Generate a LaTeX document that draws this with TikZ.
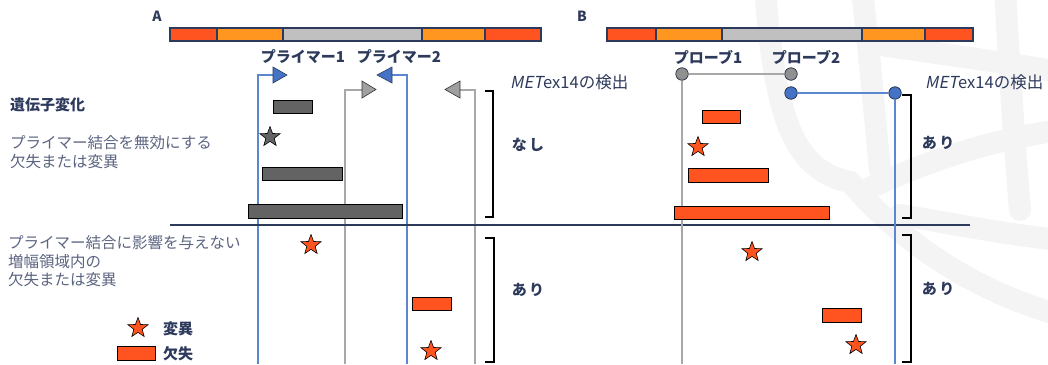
\documentclass[tikz,border=0pt]{standalone}
\usepackage{fontspec}
\setmainfont{Noto Sans CJK JP}
\newfontfamily\slantjp{Noto Sans CJK JP}[FakeSlant=0.2]
\usetikzlibrary{shapes.geometric}
\definecolor{navy}{HTML}{2E3A5C}
\definecolor{desc}{HTML}{5B6480}
\definecolor{segred}{HTML}{FF5420}
\definecolor{segorg}{HTML}{FF9620}
\definecolor{seggray}{HTML}{C0C0C0}
\definecolor{blueln}{HTML}{5B86D0}
\definecolor{bluefill}{HTML}{4472C4}
\definecolor{grayln}{HTML}{A8A8A8}
\definecolor{grayfill}{HTML}{A0A0A0}
\definecolor{darkrect}{HTML}{636363}
\definecolor{circgray}{HTML}{909090}
\definecolor{wm}{HTML}{F4F4F4}
\begin{document}
\begin{tikzpicture}[x=1pt,y=-1pt,
  seg/.style={draw=navy,line width=1.5pt},
  box/.style={draw=black,line width=0.6pt,inner sep=0pt,minimum height=13pt},
  delbox/.style={box,fill=segred},
  darkbox/.style={box,fill=darkrect},
  starmark/.style={star,star points=5,star point ratio=2.4,draw=black,line width=0.6pt,fill=segred,inner sep=0pt,minimum size=21pt},
  lbl/.style={text=navy,font=\bfseries\fontsize{15}{17}\selectfont,inner sep=0pt},
  dsc/.style={text=desc,font=\fontsize{15.5}{19.5}\selectfont,align=left,anchor=west,inner sep=0pt},
  det/.style={text=navy,font=\fontsize{16.5}{18}\selectfont,anchor=west,inner sep=0pt},
  blueline/.style={draw=blueln,line width=1.4pt},
  grayline/.style={draw=grayln,line width=1.4pt},
  brk/.style={draw=black,line width=1.3pt},
  dot/.style={circle,draw=navy!70!black,line width=0.7pt,inner sep=0pt,minimum size=12.5pt}]
\useasboundingbox (0,0) rectangle (1048,364);
% watermark
\begin{scope}[draw=wm,line width=22pt,line cap=round]
\draw (765,-10) .. controls (775,110) and (790,170) .. (850,182) .. controls (900,240) and (970,290) .. (1060,315);
\draw (1005,-10) .. controls (1010,80) and (1015,150) .. (1020,210);
\draw (880,45) .. controls (950,55) and (1000,62) .. (1060,72);
\draw (865,190) .. controls (930,160) and (990,140) .. (1060,130);
\draw (900,215) .. controls (960,225) and (1010,235) .. (1060,240);
\draw (862,-10) .. controls (870,60) and (875,120) .. (880,170);
\end{scope}
% bar A
\node[lbl,font=\bfseries\fontsize{14}{16}\selectfont] (la) at (157,16) {A};
\filldraw[seg,fill=segred] (170,28) rectangle (217,41);
\filldraw[seg,fill=segorg] (217,28) rectangle (283,41);
\filldraw[seg,fill=seggray] (283,28) rectangle (422,41);
\filldraw[seg,fill=segorg] (422,28) rectangle (485,41);
\filldraw[seg,fill=segred] (485,28) rectangle (541,41);
% bar B
\node[lbl,font=\bfseries\fontsize{14}{16}\selectfont] (lb) at (582,16) {B};
\filldraw[seg,fill=segred] (607,28) rectangle (656,41);
\filldraw[seg,fill=segorg] (656,28) rectangle (722,41);
\filldraw[seg,fill=seggray] (722,28) rectangle (862,41);
\filldraw[seg,fill=segorg] (862,28) rectangle (925,41);
\filldraw[seg,fill=segred] (925,28) rectangle (973,41);
% labels
\node[lbl] (p1) at (303,57) {プライマー1};
\node[lbl] (p2) at (399,57) {プライマー2};
\node[lbl] (q1) at (708,57) {プローブ1};
\node[lbl] (q2) at (806,57) {プローブ2};
\node[det] (detA) at (510,82) {{\slantjp MET}ex14の検出};
\node[det] (detB) at (925,82) {{\slantjp MET}ex14の検出};
\node[text=navy,font=\bfseries\fontsize{15}{17}\selectfont,anchor=west,inner sep=0pt] (gene) at (10,105) {遺伝子変化};
\node[dsc] (d1) at (10,152) {プライマー結合を無効にする\\欠失または変異};
\node[dsc,font=\fontsize{15.5}{18.5}\selectfont] (d2) at (8,261.5) {プライマー結合に影響を与えない\\増幅領域内の\\欠失または変異};
% primer lines
\coordinate (b1bot) at (258,364);
\coordinate (b1cor) at (258,75);
\coordinate (b1tri) at (273,75);
\draw[blueline] (b1bot) -- (b1cor) -- (b1tri);
\filldraw[draw=navy,line width=0.6pt,fill=bluefill] (273,67) -- (287,75) -- (273,83) -- cycle;
\coordinate (b2bot) at (407,364);
\coordinate (b2cor) at (407,75);
\coordinate (b2tri) at (392,75);
\draw[blueline] (b2tri) -- (b2cor) -- (b2bot);
\filldraw[draw=navy,line width=0.6pt,fill=bluefill] (392,67) -- (377,75) -- (392,83) -- cycle;
\coordinate (g1bot) at (345,364);
\coordinate (g1cor) at (345,90);
\coordinate (g1tri) at (362,90);
\draw[grayline] (g1bot) -- (g1cor) -- (g1tri);
\filldraw[draw=black!80,line width=0.6pt,fill=grayfill] (362,81) -- (376,89.5) -- (362,98) -- cycle;
\coordinate (g2bot) at (475,364);
\coordinate (g2cor) at (475,90);
\coordinate (g2tri) at (460,90);
\draw[grayline] (g2tri) -- (g2cor) -- (g2bot);
\filldraw[draw=black!80,line width=0.6pt,fill=grayfill] (460,81) -- (445,89.5) -- (460,98) -- cycle;
% divider
\coordinate (dl) at (170,225);
\coordinate (dr) at (970,225);
\draw[navy,line width=1.5pt] (dl) -- (dr);
% brackets A
\draw[brk] (485,91) -- (493,91) -- (493,217) -- (485,217);
\draw[brk] (485,238) -- (494,238) -- (494,362) -- (485,362);
\node[lbl] (nashi) at (528,145) {な\,し};
\node[lbl] (ariA) at (528,290) {あ\,り};
% A marks
\node[darkbox,minimum width=39pt] (a1) at (292.5,106.5) {};
\node[starmark,fill=darkrect] (a2) at (270,137) {};
\node[darkbox,minimum width=80pt] (a3) at (302,173.5) {};
\node[darkbox,minimum width=154pt,minimum height=14pt] (a4) at (325,211) {};
\node[starmark] (a5) at (311,245) {};
\node[delbox,minimum width=39pt] (a6) at (431.5,303.5) {};
\node[starmark] (a7) at (431,351) {};
% legend
\node[starmark] (lgs) at (138,328) {};
\node[lbl,anchor=west] (lgst) at (163,329) {変異};
\node[delbox,minimum width=38pt,minimum height=14pt] (lgr) at (136,353) {};
\node[lbl,anchor=west] (lgrt) at (163,354) {欠失};
% probes B
\node[dot,fill=circgray] (c1) at (682,74) {};
\node[dot,fill=circgray] (c2) at (791,74) {};
\node[dot,fill=bluefill] (c3) at (791,93) {};
\node[dot,fill=bluefill] (c4) at (895,93) {};
\coordinate (c1bot) at (682,364);
\coordinate (c4bot) at (895,364);
\draw[grayline] (c1) -- (c2);
\draw[grayline] (c1) -- (c1bot);
\draw[blueline] (c3) -- (c4);
\draw[blueline] (c4) -- (c4bot);
% brackets B
\draw[brk] (902,95) -- (911,95) -- (911,218) -- (902,218);
\draw[brk] (902,235) -- (911,235) -- (911,362) -- (902,362);
\node[lbl] (ariB1) at (938,143) {あ\,り};
\node[lbl] (ariB2) at (938,289) {あ\,り};
% B marks
\node[delbox,minimum width=38pt] (bb1) at (721,117) {};
\node[starmark] (bb2) at (698,147) {};
\node[delbox,minimum width=80pt,minimum height=14pt] (bb3) at (728,175) {};
\node[delbox,minimum width=155pt] (bb4) at (751.5,213) {};
\node[starmark] (bb5) at (752,252) {};
\node[delbox,minimum width=39pt,minimum height=14pt] (bb6) at (841.5,315) {};
\node[starmark] (bb7) at (856,345) {};
\end{tikzpicture}
\end{document}
